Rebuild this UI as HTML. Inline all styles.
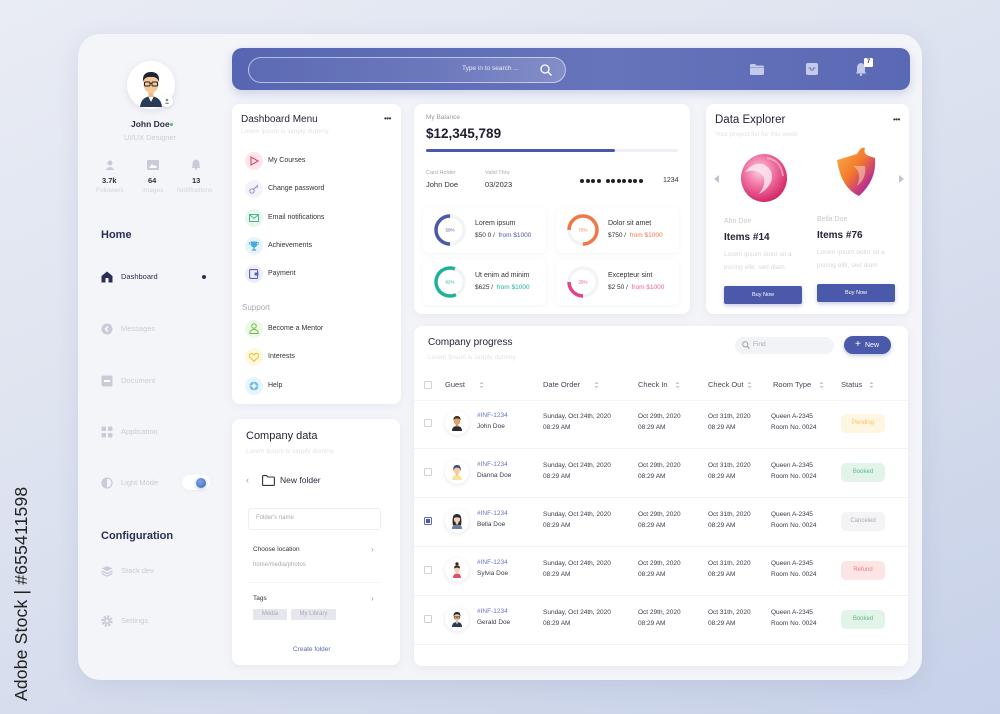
<!DOCTYPE html>
<html><head><meta charset="utf-8">
<style>
*{margin:0;padding:0;box-sizing:border-box}
body{width:1000px;height:714px;overflow:hidden;font-family:"Liberation Sans",sans-serif;background:linear-gradient(155deg,#e9ecf4 0%,#dce2ef 45%,#c7d1e8 100%);position:relative;color:#2a2d40}
.a{position:absolute;white-space:nowrap;line-height:1}
.card{position:absolute;background:#fff;border-radius:8px;box-shadow:0 2px 10px rgba(120,130,175,.10)}
.g{color:#c9ccd7}
.sub{color:#e0e2e9;font-size:6.5px}
.ic{position:absolute;border-radius:50%}
.th{font-size:7.5px;color:#454858}
.td{font-size:6.5px;color:#3a3c48}
.id{font-size:6.5px;color:#6a74c2}
.pill{position:absolute;width:44px;height:19px;border-radius:5px;font-size:6px;text-align:center;line-height:19px}
.cb{position:absolute;width:8px;height:8px;border:1px solid #cfd1da;border-radius:1.5px;background:#fff}
.av{position:absolute;width:24px;height:24px;border-radius:50%;background:#fff;box-shadow:0 1px 4px rgba(120,130,170,.2)}
.hr{position:absolute;height:1px;background:#f1f2f6}
.mini{position:absolute;background:#fff;border-radius:6px;box-shadow:0 1px 6px rgba(120,130,170,.09)}
.btn{position:absolute;background:#4a59a9;color:#fff;font-size:5.5px;text-align:center;border-radius:2px;box-shadow:0 2px 4px rgba(74,89,169,.3)}
.dot{display:inline-block;width:4px;height:4px;border-radius:50%;background:#222;margin-right:1.5px}
</style></head><body>

<!-- vertical watermark -->
<div class="a" style="left:13px;top:701px;transform:rotate(-90deg);transform-origin:left top;font-size:17.5px;color:#222;letter-spacing:0.2px">Adobe Stock | #655411598</div>

<!-- main panel -->
<div class="a" style="left:78px;top:34px;width:844px;height:646px;border-radius:22px;background:#f4f5f9;box-shadow:0 6px 24px rgba(100,115,160,.14)"></div>

<!-- ============ SIDEBAR ============ -->
<div class="a" style="left:127px;top:61px;width:48px;height:48px;border-radius:50%;background:#fff;box-shadow:0 2px 8px rgba(120,130,170,.18)"></div>
<svg class="a" style="left:127px;top:61px" width="48" height="48" viewBox="0 0 48 48">
  <path d="M13 46 Q14 36 24 35 Q34 36 35 46 Z" fill="#2b3a55"/>
  <path d="M21 35 L24 41 L27 35 Z" fill="#fff"/>
  <rect x="21.5" y="30" width="5" height="6" fill="#f0b98a"/>
  <ellipse cx="24" cy="23" rx="7.5" ry="9" fill="#f5c89b"/>
  <path d="M16 21 Q15 11 24 11 Q33 11 32 21 Q30 15 24 16 Q18 15 16 21Z" fill="#1f2433"/>
  <rect x="17.5" y="21" width="5.5" height="4" rx="1" fill="none" stroke="#222" stroke-width="1"/>
  <rect x="25" y="21" width="5.5" height="4" rx="1" fill="none" stroke="#222" stroke-width="1"/>
  <line x1="23" y1="22.5" x2="25" y2="22.5" stroke="#222" stroke-width="0.8"/>
</svg>
<div class="a" style="left:161px;top:95px;width:12px;height:12px;border-radius:50%;background:#fff;box-shadow:0 1px 3px rgba(0,0,0,.12)"></div>
<svg class="a" style="left:164px;top:98px" width="6" height="6" viewBox="0 0 6 6"><circle cx="3" cy="2" r="1.3" fill="#888"/><path d="M0.8 6 Q3 3 5.2 6Z" fill="#888"/></svg>

<div class="a" style="left:131px;top:120px;font-size:8.5px;font-weight:bold;color:#2a2d40">John Doe</div>
<div class="a" style="left:170px;top:123px;width:3px;height:3px;border-radius:50%;background:#4cc36b"></div>
<div class="a g" style="left:124px;top:134px;font-size:7.5px;color:#cbced8">UI/UX Designer</div>

<svg class="a" style="left:105px;top:160px" width="10" height="10" viewBox="0 0 10 10"><circle cx="5" cy="3" r="2.5" fill="#c9ccd7"/><path d="M0.5 10 Q5 4 9.5 10Z" fill="#c9ccd7"/></svg>
<svg class="a" style="left:147px;top:160px" width="12" height="10" viewBox="0 0 12 10"><rect width="12" height="10" rx="1" fill="#c9ccd7"/><path d="M2 8 L5 4 L7 6 L8.5 5 L10 8Z" fill="#fff"/></svg>
<svg class="a" style="left:191px;top:159px" width="10" height="11" viewBox="0 0 10 11"><path d="M5 0.5 Q8.5 1 8.5 5 L8.5 8 L9.5 9 L0.5 9 L1.5 8 L1.5 5 Q1.5 1 5 0.5Z" fill="#c9ccd7"/><circle cx="5" cy="10" r="1" fill="#c9ccd7"/></svg>
<div class="a" style="left:102px;top:177px;font-size:7.5px;font-weight:bold;color:#333">3.7k</div>
<div class="a" style="left:148px;top:177px;font-size:7.5px;font-weight:bold;color:#333">64</div>
<div class="a" style="left:192px;top:177px;font-size:7.5px;font-weight:bold;color:#333">13</div>
<div class="a" style="left:96px;top:188px;font-size:6.5px;color:#d3d5de">Followers</div>
<div class="a" style="left:142px;top:188px;font-size:6.5px;color:#d3d5de">Images</div>
<div class="a" style="left:177px;top:188px;font-size:6.5px;color:#d3d5de">Notifications</div>

<div class="a" style="left:101px;top:230px;font-size:11px;font-weight:bold;color:#2a2f55">Home</div>

<svg class="a" style="left:101px;top:271px" width="12" height="12" viewBox="0 0 12 12"><path d="M6 0.5 L11.5 5 L11.5 11.5 L0.5 11.5 L0.5 5Z" fill="#2a2f55"/><rect x="4.5" y="7" width="3" height="4.5" fill="#fff"/></svg>
<div class="a" style="left:121px;top:273px;font-size:7.5px;color:#2a2f55">Dashboard</div>
<div class="a" style="left:202px;top:275px;width:4px;height:4px;border-radius:50%;background:#2a2f55"></div>

<svg class="a" style="left:101px;top:323px" width="12" height="12" viewBox="0 0 12 12"><circle cx="6" cy="6" r="5.5" fill="#c9ccd7"/><path d="M7 3.5 L4.5 6 L7 8.5" stroke="#fff" stroke-width="1.4" fill="none"/></svg>
<div class="a g" style="left:121px;top:325px;font-size:7.5px">Messages</div>
<svg class="a" style="left:101px;top:375px" width="12" height="12" viewBox="0 0 12 12"><rect x="0.5" y="0.5" width="11" height="11" rx="2" fill="#c9ccd7"/><rect x="3" y="5" width="6" height="2" fill="#fff"/></svg>
<div class="a g" style="left:121px;top:377px;font-size:7.5px">Document</div>
<svg class="a" style="left:101px;top:426px" width="12" height="12" viewBox="0 0 12 12"><rect x="0.5" y="0.5" width="4.5" height="4.5" rx="1" fill="#c9ccd7"/><rect x="7" y="0.5" width="4.5" height="4.5" rx="1" fill="#c9ccd7"/><rect x="0.5" y="7" width="4.5" height="4.5" rx="1" fill="#c9ccd7"/><rect x="7" y="7" width="4.5" height="4.5" rx="1" fill="#c9ccd7"/></svg>
<div class="a g" style="left:121px;top:428px;font-size:7.5px">Application</div>
<svg class="a" style="left:101px;top:477px" width="12" height="12" viewBox="0 0 12 12"><circle cx="6" cy="6" r="5" fill="none" stroke="#c9ccd7" stroke-width="1.2"/><path d="M6 1 A5 5 0 0 0 6 11Z" fill="#c9ccd7"/></svg>
<div class="a g" style="left:121px;top:479px;font-size:7.5px">Light Mode</div>
<div class="a" style="left:182px;top:475px;width:28px;height:15px;border-radius:8px;background:#fff;box-shadow:0 1px 3px rgba(0,0,0,.04)"></div>
<div class="a" style="left:196px;top:478px;width:10px;height:10px;border-radius:50%;background:radial-gradient(circle at 40% 35%,#7aa4e6,#3a64b8);box-shadow:0 1px 3px rgba(58,100,184,.4)"></div>

<div class="a" style="left:101px;top:531px;font-size:11px;font-weight:bold;color:#2a2f55">Configuration</div>
<svg class="a" style="left:101px;top:565px" width="12" height="12" viewBox="0 0 12 12"><path d="M6 1 L11.5 3.5 L6 6 L0.5 3.5Z" fill="#c9ccd7"/><path d="M0.5 6 L6 8.5 L11.5 6" stroke="#c9ccd7" stroke-width="1.3" fill="none"/><path d="M0.5 8.5 L6 11 L11.5 8.5" stroke="#c9ccd7" stroke-width="1.3" fill="none"/></svg>
<div class="a g" style="left:121px;top:567px;font-size:7.5px">Stack dev</div>
<svg class="a" style="left:101px;top:615px" width="12" height="12" viewBox="0 0 12 12"><circle cx="6" cy="6" r="4.2" fill="none" stroke="#c9ccd7" stroke-width="3" stroke-dasharray="2 1.3"/><circle cx="6" cy="6" r="3.2" fill="#c9ccd7"/><circle cx="6" cy="6" r="1.5" fill="#f4f5f9"/></svg>
<div class="a g" style="left:121px;top:617px;font-size:7.5px">Settings</div>

<!-- ============ HEADER ============ -->
<div class="a" style="left:232px;top:48px;width:678px;height:42px;border-radius:10px;background:linear-gradient(90deg,#5766b2,#6674bb 55%,#5a69b4);box-shadow:0 4px 10px rgba(87,102,178,.25)"></div>
<div class="a" style="left:248px;top:57px;width:318px;height:26px;border-radius:13px;border:1px solid rgba(255,255,255,.55);background:linear-gradient(90deg,rgba(255,255,255,.03),rgba(255,255,255,.08) 60%,rgba(255,255,255,.2))"></div>
<div class="a" style="left:462px;top:66px;font-size:6.5px;color:rgba(255,255,255,.85)">Type in to search ...</div>
<svg class="a" style="left:540px;top:64px" width="12" height="12" viewBox="0 0 12 12"><circle cx="5" cy="5" r="4" fill="none" stroke="#fff" stroke-width="1.3"/><line x1="8" y1="8" x2="11.5" y2="11.5" stroke="#fff" stroke-width="1.3"/></svg>
<svg class="a" style="left:750px;top:64px" width="14" height="11" viewBox="0 0 14 11"><path d="M0 1.5 Q0 0 1.5 0 L5 0 L6.5 1.5 L12.5 1.5 Q14 1.5 14 3 L14 9.5 Q14 11 12.5 11 L1.5 11 Q0 11 0 9.5Z" fill="#c3caea"/><rect x="0" y="3" width="14" height="1" fill="#9aa4d8"/></svg>
<svg class="a" style="left:806px;top:63px" width="12" height="12" viewBox="0 0 12 12"><rect width="12" height="12" rx="2" fill="#c3caea"/><path d="M2.5 5 L4.5 5 L5 7 L7 7 L7.5 5 L9.5 5" stroke="#6674bb" stroke-width="1" fill="none"/></svg>
<svg class="a" style="left:855px;top:62px" width="12" height="14" viewBox="0 0 12 14"><path d="M6 1 Q10 1.5 10 6 L10 10 L11.5 11.5 L0.5 11.5 L2 10 L2 6 Q2 1.5 6 1Z" fill="#c3caea"/><circle cx="6" cy="12.8" r="1.2" fill="#c3caea"/></svg>
<div class="a" style="left:864px;top:58px;width:9px;height:9px;background:#fff;border-radius:1.5px;font-size:6px;font-weight:bold;color:#333;text-align:center;line-height:9px">7</div>

<!-- ============ DASHBOARD MENU ============ -->
<div class="card" style="left:232px;top:104px;width:169px;height:300px"></div>
<div class="a" style="left:241px;top:115px;font-size:10px;color:#23253a">Dashboard Menu</div>
<div class="a" style="left:384px;top:115px;font-size:8px;color:#333;letter-spacing:-0.5px">•••</div>
<div class="a sub" style="left:241px;top:129px">Lorem Ipsum is simply dummy</div>

<div class="ic" style="left:245px;top:152px;width:18px;height:18px;background:#fde7ed"></div>
<svg class="a" style="left:250px;top:156px" width="9" height="10" viewBox="0 0 9 10"><path d="M1 1 L8 5 L1 9Z" fill="none" stroke="#e44c6d" stroke-width="1.2"/></svg>
<div class="a" style="left:268px;top:157px;font-size:7px;color:#333">My Courses</div>

<div class="ic" style="left:245px;top:180px;width:18px;height:18px;background:#f3f3f9"></div>
<svg class="a" style="left:249px;top:184px" width="10" height="10" viewBox="0 0 10 10"><circle cx="3" cy="7" r="2.2" fill="none" stroke="#8b90c4" stroke-width="1"/><path d="M4.6 5.4 L9 1 M7.5 2.5 L8.8 3.8" stroke="#8b90c4" stroke-width="1"/></svg>
<div class="a" style="left:268px;top:185px;font-size:7px;color:#333">Change password</div>

<div class="ic" style="left:245px;top:209px;width:18px;height:18px;background:#e7f6ee"></div>
<svg class="a" style="left:249px;top:214px" width="10" height="8" viewBox="0 0 10 8"><rect x="0.5" y="0.5" width="9" height="7" fill="none" stroke="#4cb58a" stroke-width="1"/><path d="M0.5 0.5 L5 4.5 L9.5 0.5" fill="none" stroke="#4cb58a" stroke-width="1"/></svg>
<div class="a" style="left:268px;top:214px;font-size:7px;color:#333">Email notifications</div>

<div class="ic" style="left:245px;top:237px;width:18px;height:18px;background:#e8f5fd"></div>
<svg class="a" style="left:249px;top:241px" width="10" height="10" viewBox="0 0 10 10"><path d="M2 0.5 L8 0.5 L8 3.5 Q8 6 5 6.5 Q2 6 2 3.5Z" fill="#49a9e2"/><path d="M2 1.5 L0.5 1.5 Q0.5 4 2.2 4 M8 1.5 L9.5 1.5 Q9.5 4 7.8 4" stroke="#49a9e2" stroke-width="0.8" fill="none"/><rect x="4.3" y="6.5" width="1.4" height="2" fill="#49a9e2"/><rect x="2.8" y="8.5" width="4.4" height="1.2" fill="#49a9e2"/></svg>
<div class="a" style="left:268px;top:242px;font-size:7px;color:#333">Achievements</div>

<div class="ic" style="left:245px;top:265px;width:18px;height:18px;background:#ededf9"></div>
<svg class="a" style="left:249px;top:269px" width="10" height="10" viewBox="0 0 10 10"><rect x="0.6" y="0.6" width="8" height="8.8" rx="1" fill="none" stroke="#5d61b6" stroke-width="1.1"/><rect x="5.5" y="3.5" width="4" height="3" rx="0.8" fill="#5d61b6"/></svg>
<div class="a" style="left:268px;top:270px;font-size:7px;color:#333">Payment</div>

<div class="a" style="left:242px;top:304px;font-size:8px;color:#a8aab5">Support</div>

<div class="ic" style="left:245px;top:320px;width:18px;height:18px;background:#eef8e9"></div>
<svg class="a" style="left:249px;top:323px" width="10" height="11" viewBox="0 0 10 11"><circle cx="5" cy="3" r="2.3" fill="none" stroke="#6cbf4a" stroke-width="1"/><path d="M0.8 10.5 Q0.8 6.5 5 6.5 Q9.2 6.5 9.2 10.5Z" fill="none" stroke="#6cbf4a" stroke-width="1"/></svg>
<div class="a" style="left:268px;top:325px;font-size:7px;color:#333">Become a Mentor</div>

<div class="ic" style="left:245px;top:348px;width:18px;height:18px;background:#fef8e1"></div>
<svg class="a" style="left:249px;top:353px" width="10" height="9" viewBox="0 0 10 9"><path d="M5 8.3 L1 4.3 Q-0.5 2 1.5 0.8 Q3.5 -0.2 5 2 Q6.5 -0.2 8.5 0.8 Q10.5 2 9 4.3Z" fill="none" stroke="#f0c324" stroke-width="1.1"/></svg>
<div class="a" style="left:268px;top:353px;font-size:7px;color:#333">Interests</div>

<div class="ic" style="left:245px;top:377px;width:18px;height:18px;background:#e8f5fd"></div>
<svg class="a" style="left:249px;top:381px" width="10" height="10" viewBox="0 0 10 10"><circle cx="5" cy="5" r="4.5" fill="#68b9ec"/><circle cx="5" cy="5" r="2" fill="#e8f5fd"/><path d="M5 0.5 L5 3 M5 7 L5 9.5 M0.5 5 L3 5 M7 5 L9.5 5" stroke="#e8f5fd" stroke-width="0.8"/></svg>
<div class="a" style="left:268px;top:382px;font-size:7px;color:#333">Help</div>

<!-- ============ COMPANY DATA ============ -->
<div class="card" style="left:232px;top:419px;width:168px;height:246px"></div>
<div class="a" style="left:246px;top:431px;font-size:11px;color:#23253a">Company data</div>
<div class="a sub" style="left:246px;top:449px">Lorem Ipsum is simply dummy</div>
<div class="a" style="left:246px;top:476px;font-size:9px;color:#999">‹</div>
<svg class="a" style="left:262px;top:475px" width="13" height="11" viewBox="0 0 13 11"><path d="M0.6 1.5 Q0.6 0.6 1.5 0.6 L4.5 0.6 L5.8 2 L11.5 2 Q12.4 2 12.4 3 L12.4 9.5 Q12.4 10.4 11.5 10.4 L1.5 10.4 Q0.6 10.4 0.6 9.5Z" fill="none" stroke="#333" stroke-width="1.1"/></svg>
<div class="a" style="left:280px;top:476px;font-size:8.5px;color:#2a2d40">New folder</div>
<div class="a" style="left:248px;top:508px;width:133px;height:22px;border:1px solid #eceef3;border-radius:3px"></div>
<div class="a" style="left:256px;top:515px;font-size:6px;color:#a9abb5">Folder's name</div>
<div class="a" style="left:253px;top:547px;font-size:6.5px;color:#333">Choose location</div>
<div class="a" style="left:371px;top:546px;font-size:8px;color:#999">›</div>
<div class="a" style="left:253px;top:562px;font-size:6px;color:#aaa">home/media/photos</div>
<div class="hr" style="left:248px;top:582px;width:133px;background:#f4f5f8"></div>
<div class="a" style="left:253px;top:596px;font-size:6.5px;color:#333">Tags</div>
<div class="a" style="left:371px;top:595px;font-size:8px;color:#999">›</div>
<div class="a" style="left:253px;top:609px;width:34px;height:11px;background:#e6e7ec;border-radius:1.5px;font-size:6px;color:#a6a8b2;text-align:center;line-height:11px">Media</div>
<div class="a" style="left:291px;top:609px;width:45px;height:11px;background:#e6e7ec;border-radius:1.5px;font-size:6px;color:#a6a8b2;text-align:center;line-height:11px">My Library</div>
<div class="a" style="left:293px;top:647px;font-size:6.5px;color:#5b66b0">Create folder</div>

<!-- ============ BALANCE ============ -->
<div class="card" style="left:414px;top:104px;width:276px;height:210px"></div>
<div class="a" style="left:426px;top:115px;font-size:6.5px;color:#999">My Balance</div>
<div class="a" style="left:426px;top:127px;font-size:13.5px;font-weight:bold;color:#1e1f2e">$12,345,789</div>
<div class="a" style="left:426px;top:149px;width:252px;height:3px;border-radius:2px;background:#eef0f5"></div>
<div class="a" style="left:426px;top:149px;width:189px;height:3px;border-radius:2px;background:#4a59a9"></div>
<div class="a" style="left:426px;top:171px;font-size:5.5px;color:#aaa">Card Holder</div>
<div class="a" style="left:426px;top:181px;font-size:7.5px;color:#333">John Doe</div>
<div class="a" style="left:485px;top:171px;font-size:5.5px;color:#aaa">Valid Thru</div>
<div class="a" style="left:485px;top:181px;font-size:7.5px;color:#333">03/2023</div>
<div class="a" style="left:580px;top:179px;line-height:4px;font-size:0"><span class="dot"></span><span class="dot"></span><span class="dot"></span><span class="dot" style="margin-right:5px"></span><span class="dot"></span><span class="dot"></span><span class="dot"></span><span class="dot"></span><span class="dot"></span><span class="dot"></span><span class="dot"></span></div>
<div class="a" style="left:663px;top:177px;font-size:7px;color:#333">1234</div>

<div class="mini" style="left:423px;top:208px;width:123px;height:45px"></div>
<div class="mini" style="left:556px;top:208px;width:123px;height:45px"></div>
<div class="mini" style="left:423px;top:260px;width:123px;height:45px"></div>
<div class="mini" style="left:556px;top:260px;width:123px;height:45px"></div>

<svg class="a" style="left:434px;top:214px" width="32" height="32" viewBox="0 0 32 32"><circle cx="16" cy="16" r="14" fill="none" stroke="#f3f4f8" stroke-width="3.5"/><circle cx="16" cy="16" r="14" fill="none" stroke="#4a59a9" stroke-width="3.5" stroke-dasharray="44 100" transform="rotate(90 16 16)"/><text x="16" y="17.6" font-size="4.5" fill="#4a59a9" text-anchor="middle" font-family="Liberation Sans">50%</text></svg>
<svg class="a" style="left:567px;top:214px" width="32" height="32" viewBox="0 0 32 32"><circle cx="16" cy="16" r="14" fill="none" stroke="#f3f4f8" stroke-width="3.5"/><circle cx="16" cy="16" r="14" fill="none" stroke="#f07848" stroke-width="3.5" stroke-dasharray="66 100" transform="rotate(180 16 16)"/><text x="16" y="17.6" font-size="4.5" fill="#f07848" text-anchor="middle" font-family="Liberation Sans">75%</text></svg>
<svg class="a" style="left:434px;top:266px" width="32" height="32" viewBox="0 0 32 32"><circle cx="16" cy="16" r="14" fill="none" stroke="#f3f4f8" stroke-width="3.5"/><circle cx="16" cy="16" r="14" fill="none" stroke="#1db399" stroke-width="3.5" stroke-dasharray="55 100" transform="rotate(65 16 16)"/><text x="16" y="17.6" font-size="4.5" fill="#1db399" text-anchor="middle" font-family="Liberation Sans">62%</text></svg>
<svg class="a" style="left:567px;top:266px" width="32" height="32" viewBox="0 0 32 32"><circle cx="16" cy="16" r="14" fill="none" stroke="#f3f4f8" stroke-width="3.5"/><circle cx="16" cy="16" r="14" fill="none" stroke="#e2448a" stroke-width="3.5" stroke-dasharray="22 100" transform="rotate(90 16 16)"/><text x="16" y="17.6" font-size="4.5" fill="#e2448a" text-anchor="middle" font-family="Liberation Sans">25%</text></svg>

<div class="a" style="left:475px;top:220px;font-size:7px;color:#333">Lorem ipsum</div>
<div class="a" style="left:475px;top:233px;font-size:6.5px;color:#333">$50 0 /&nbsp;&nbsp;<span style="color:#4a59a9">from $1000</span></div>
<div class="a" style="left:608px;top:220px;font-size:7px;color:#333">Dolor sit amet</div>
<div class="a" style="left:608px;top:233px;font-size:6.5px;color:#333">$750 /&nbsp;&nbsp;<span style="color:#f07848">from $1000</span></div>
<div class="a" style="left:475px;top:272px;font-size:7px;color:#333">Ut enim ad minim</div>
<div class="a" style="left:475px;top:285px;font-size:6.5px;color:#333">$625 /&nbsp;&nbsp;<span style="color:#1db399">from $1000</span></div>
<div class="a" style="left:608px;top:272px;font-size:7px;color:#333">Excepteur sint</div>
<div class="a" style="left:608px;top:285px;font-size:6.5px;color:#333">$2 50 /&nbsp;&nbsp;<span style="color:#f0628a">from $1000</span></div>

<!-- ============ DATA EXPLORER ============ -->
<div class="card" style="left:706px;top:104px;width:203px;height:210px"></div>
<div class="a" style="left:715px;top:115px;font-size:11.5px;color:#23253a">Data Explorer</div>
<div class="a" style="left:893px;top:116px;font-size:8px;color:#333;letter-spacing:-0.5px">•••</div>
<div class="a sub" style="left:715px;top:132px">Your project list for this week</div>
<svg class="a" style="left:714px;top:175px" width="6" height="8" viewBox="0 0 6 8"><path d="M5 0 L0 4 L5 8Z" fill="#c3c4cc"/></svg>
<svg class="a" style="left:898px;top:175px" width="6" height="8" viewBox="0 0 6 8"><path d="M1 0 L6 4 L1 8Z" fill="#c3c4cc"/></svg>
<svg class="a" style="left:737px;top:150px" width="52" height="54" viewBox="0 0 52 54">
  <defs><radialGradient id="pk" cx="40%" cy="35%" r="65%"><stop offset="0" stop-color="#fbd0e0"/><stop offset="0.55" stop-color="#ee6a9c"/><stop offset="1" stop-color="#d42a6a"/></radialGradient></defs>
  <ellipse cx="27" cy="28" rx="23" ry="24" fill="url(#pk)"/>
  <path d="M8 22 Q20 18 26 26 Q30 34 22 44 Q30 40 34 32 Q38 20 26 14 Q16 12 8 22Z" fill="#fde4ee" opacity="0.85"/>
  <path d="M30 8 Q44 10 46 26" stroke="#fff" stroke-width="2" fill="none" opacity="0.4"/>
</svg>
<svg class="a" style="left:833px;top:146px" width="46" height="56" viewBox="0 0 46 56">
  <defs><linearGradient id="sh" x1="0" y1="0" x2="1" y2="1"><stop offset="0" stop-color="#fbb24a"/><stop offset="0.45" stop-color="#f27a2c"/><stop offset="0.75" stop-color="#c0348a"/><stop offset="1" stop-color="#7b2a9a"/></linearGradient></defs>
  <path d="M4 14 L24 8 Q28 0 32 2 Q30 8 36 10 L42 12 Q44 34 26 50 Q8 42 4 14Z" fill="url(#sh)"/>
  <path d="M20 20 Q30 26 24 40 Q34 32 32 20" fill="#fbe0c8" opacity="0.5"/>
</svg>
<div class="a" style="left:724px;top:218px;font-size:7px;color:#c8cad2">Ahn Doe</div>
<div class="a" style="left:724px;top:233px;font-size:10px;font-weight:bold;color:#23253a">Items #14</div>
<div class="a" style="left:724px;top:252px;font-size:6.5px;color:#d6d8de">Lorem ipsum dolor sit a</div>
<div class="a" style="left:724px;top:265px;font-size:6.5px;color:#d6d8de">pscing elitr, sed diam</div>
<div class="btn" style="left:724px;top:286px;width:78px;height:18px;line-height:18px">Buy Now</div>
<div class="a" style="left:817px;top:216px;font-size:7px;color:#c8cad2">Bella Doe</div>
<div class="a" style="left:817px;top:231px;font-size:10px;font-weight:bold;color:#23253a">Items #76</div>
<div class="a" style="left:817px;top:250px;font-size:6.5px;color:#d6d8de">Lorem ipsum dolor sit a</div>
<div class="a" style="left:817px;top:263px;font-size:6.5px;color:#d6d8de">pscing elitr, sed diam</div>
<div class="btn" style="left:817px;top:284px;width:78px;height:18px;line-height:18px">Buy Now</div>

<!-- ============ COMPANY PROGRESS ============ -->
<div class="card" style="left:414px;top:326px;width:494px;height:340px"></div>
<div class="a" style="left:428px;top:338px;font-size:10px;color:#23253a">Company progress</div>
<div class="a sub" style="left:428px;top:355px">Lorem Ipsum is simply dummy</div>
<div class="a" style="left:735px;top:337px;width:99px;height:17px;border-radius:9px;background:#f2f3f7"></div>
<svg class="a" style="left:742px;top:341px" width="8" height="8" viewBox="0 0 8 8"><circle cx="3.3" cy="3.3" r="2.6" fill="none" stroke="#999" stroke-width="0.9"/><line x1="5.2" y1="5.2" x2="7.5" y2="7.5" stroke="#999" stroke-width="0.9"/></svg>
<div class="a" style="left:753px;top:342px;font-size:6.5px;color:#aaa">Find</div>
<div class="a" style="left:844px;top:336px;width:47px;height:18px;border-radius:9px;background:#4a59a9;box-shadow:0 2px 4px rgba(74,89,169,.3)"></div>
<div class="a" style="left:855px;top:340px;font-size:10px;color:#fff">+</div>
<div class="a" style="left:865px;top:342px;font-size:7px;color:#fff">New</div>

<!-- header row -->
<div class="cb" style="left:424px;top:381px"></div>
<div class="a th" style="left:445px;top:381px">Guest</div>
<div class="a th" style="left:543px;top:381px">Date Order</div>
<div class="a th" style="left:638px;top:381px">Check In</div>
<div class="a th" style="left:708px;top:381px">Check Out</div>
<div class="a th" style="left:773px;top:381px">Room Type</div>
<div class="a th" style="left:841px;top:381px">Status</div>
<svg class="a" style="left:479px;top:381px" width="5" height="8" viewBox="0 0 5 8"><path d="M0.5 3 L2.5 0.8 L4.5 3Z M0.5 5 L2.5 7.2 L4.5 5Z" fill="#c5c7d0"/></svg>
<svg class="a" style="left:594px;top:381px" width="5" height="8" viewBox="0 0 5 8"><path d="M0.5 3 L2.5 0.8 L4.5 3Z M0.5 5 L2.5 7.2 L4.5 5Z" fill="#c5c7d0"/></svg>
<svg class="a" style="left:675px;top:381px" width="5" height="8" viewBox="0 0 5 8"><path d="M0.5 3 L2.5 0.8 L4.5 3Z M0.5 5 L2.5 7.2 L4.5 5Z" fill="#c5c7d0"/></svg>
<svg class="a" style="left:747px;top:381px" width="5" height="8" viewBox="0 0 5 8"><path d="M0.5 3 L2.5 0.8 L4.5 3Z M0.5 5 L2.5 7.2 L4.5 5Z" fill="#c5c7d0"/></svg>
<svg class="a" style="left:819px;top:381px" width="5" height="8" viewBox="0 0 5 8"><path d="M0.5 3 L2.5 0.8 L4.5 3Z M0.5 5 L2.5 7.2 L4.5 5Z" fill="#c5c7d0"/></svg>
<svg class="a" style="left:869px;top:381px" width="5" height="8" viewBox="0 0 5 8"><path d="M0.5 3 L2.5 0.8 L4.5 3Z M0.5 5 L2.5 7.2 L4.5 5Z" fill="#c5c7d0"/></svg>
<div class="hr" style="left:414px;top:400px;width:494px;background:#f5f6f9"></div>

<!-- row 1 -->
<div class="cb" style="left:424px;top:419px"></div>
<div class="av" style="left:445px;top:411px"></div>
<svg class="a" style="left:445px;top:411px" width="24" height="24" viewBox="0 0 24 24"><path d="M7 20 Q7 15 12 15 Q17 15 17 20Z" fill="#2b2b33"/><rect x="10.8" y="13" width="2.4" height="2.5" fill="#c98b5a"/><ellipse cx="12" cy="10" rx="3.4" ry="3.9" fill="#d9a070"/><path d="M8.4 9 Q8.4 5 12 5 Q15.6 5 15.6 9 Q14 7 12 7.4 Q10 7 8.4 9Z" fill="#3a2a20"/></svg>
<div class="a id" style="left:477px;top:413px">#INF-1234</div>
<div class="a td" style="left:477px;top:424px">John Doe</div>
<div class="a td" style="left:543px;top:414px">Sunday, Oct 24th, 2020</div>
<div class="a td" style="left:543px;top:425px">08:29 AM</div>
<div class="a td" style="left:638px;top:414px">Oct 29th, 2020</div>
<div class="a td" style="left:638px;top:425px">08:29 AM</div>
<div class="a td" style="left:708px;top:414px">Oct 31th, 2020</div>
<div class="a td" style="left:708px;top:425px">08:29 AM</div>
<div class="a td" style="left:771px;top:414px">Queen A-2345</div>
<div class="a td" style="left:771px;top:425px">Room No. 0024</div>
<div class="pill" style="left:841px;top:414px;background:#fff6e2;color:#f4c067">Pending</div>
<div class="hr" style="left:414px;top:448px;width:494px"></div>

<!-- row 2 -->
<div class="cb" style="left:424px;top:468px"></div>
<div class="av" style="left:445px;top:460px"></div>
<svg class="a" style="left:445px;top:460px" width="24" height="24" viewBox="0 0 24 24"><path d="M7 20 Q7 15 12 15 Q17 15 17 20Z" fill="#f2e6a0"/><rect x="10.8" y="13" width="2.4" height="2.5" fill="#f0c090"/><ellipse cx="12" cy="10.3" rx="3.4" ry="3.9" fill="#f6cda0"/><path d="M8.2 11 Q7.8 5 12 5 Q16.2 5 15.8 11 Q15 7.5 12 7.5 Q9 7.5 8.2 11Z" fill="#2f4a8a"/></svg>
<div class="a id" style="left:477px;top:462px">#INF-1234</div>
<div class="a td" style="left:477px;top:473px">Dianna Doe</div>
<div class="a td" style="left:543px;top:463px">Sunday, Oct 24th, 2020</div>
<div class="a td" style="left:543px;top:474px">08:29 AM</div>
<div class="a td" style="left:638px;top:463px">Oct 29th, 2020</div>
<div class="a td" style="left:638px;top:474px">08:29 AM</div>
<div class="a td" style="left:708px;top:463px">Oct 31th, 2020</div>
<div class="a td" style="left:708px;top:474px">08:29 AM</div>
<div class="a td" style="left:771px;top:463px">Queen A-2345</div>
<div class="a td" style="left:771px;top:474px">Room No. 0024</div>
<div class="pill" style="left:841px;top:463px;background:#e2f4e9;color:#58bd86">Booked</div>
<div class="hr" style="left:414px;top:497px;width:494px"></div>

<!-- row 3 -->
<div class="cb" style="left:424px;top:517px;border-color:#5a66bb"></div>
<div class="a" style="left:426px;top:519px;width:4px;height:4px;background:#4a59a9"></div>
<div class="av" style="left:445px;top:509px"></div>
<svg class="a" style="left:445px;top:509px" width="24" height="24" viewBox="0 0 24 24"><path d="M7 20 Q7 15 12 15 Q17 15 17 20Z" fill="#6a7fa0"/><path d="M7.8 16 Q7 8 9 6 Q12 4 15 6 Q17 8 16.2 16Z" fill="#252a35"/><rect x="10.8" y="13" width="2.4" height="2.5" fill="#f0c8a0"/><ellipse cx="12" cy="10.3" rx="3.1" ry="3.7" fill="#f6d2b0"/><path d="M8.8 9 Q10 6 12 6.2 Q14 6 15.2 9 Q12 7.5 8.8 9Z" fill="#252a35"/></svg>
<div class="a id" style="left:477px;top:511px">#INF-1234</div>
<div class="a td" style="left:477px;top:522px">Bella Doe</div>
<div class="a td" style="left:543px;top:512px">Sunday, Oct 24th, 2020</div>
<div class="a td" style="left:543px;top:523px">08:29 AM</div>
<div class="a td" style="left:638px;top:512px">Oct 29th, 2020</div>
<div class="a td" style="left:638px;top:523px">08:29 AM</div>
<div class="a td" style="left:708px;top:512px">Oct 31th, 2020</div>
<div class="a td" style="left:708px;top:523px">08:29 AM</div>
<div class="a td" style="left:771px;top:512px">Queen A-2345</div>
<div class="a td" style="left:771px;top:523px">Room No. 0024</div>
<div class="pill" style="left:841px;top:512px;background:#f4f4f6;color:#a9abb3">Canceled</div>
<div class="hr" style="left:414px;top:546px;width:494px"></div>

<!-- row 4 -->
<div class="cb" style="left:424px;top:566px"></div>
<div class="av" style="left:445px;top:558px"></div>
<svg class="a" style="left:445px;top:558px" width="24" height="24" viewBox="0 0 24 24"><path d="M8 20 Q8 15.5 12 15.5 Q16 15.5 16 20Z" fill="#e0506a"/><rect x="10.8" y="13.5" width="2.4" height="2.5" fill="#f0c8a0"/><ellipse cx="12" cy="11" rx="3" ry="3.3" fill="#f6d2b0"/><circle cx="12" cy="5.8" r="1.6" fill="#3a2a25"/><path d="M9 10.5 Q9 7.3 12 7.3 Q15 7.3 15 10.5 Q12 8.8 9 10.5Z" fill="#3a2a25"/></svg>
<div class="a id" style="left:477px;top:560px">#INF-1234</div>
<div class="a td" style="left:477px;top:571px">Sylvia Doe</div>
<div class="a td" style="left:543px;top:561px">Sunday, Oct 24th, 2020</div>
<div class="a td" style="left:543px;top:572px">08:29 AM</div>
<div class="a td" style="left:638px;top:561px">Oct 29th, 2020</div>
<div class="a td" style="left:638px;top:572px">08:29 AM</div>
<div class="a td" style="left:708px;top:561px">Oct 31th, 2020</div>
<div class="a td" style="left:708px;top:572px">08:29 AM</div>
<div class="a td" style="left:771px;top:561px">Queen A-2345</div>
<div class="a td" style="left:771px;top:572px">Room No. 0024</div>
<div class="pill" style="left:841px;top:561px;background:#fde5e6;color:#ef7b7e">Refund</div>
<div class="hr" style="left:414px;top:595px;width:494px"></div>

<!-- row 5 -->
<div class="cb" style="left:424px;top:615px"></div>
<div class="av" style="left:445px;top:607px"></div>
<svg class="a" style="left:445px;top:607px" width="24" height="24" viewBox="0 0 24 24"><path d="M7 20 Q7 15 12 15 Q17 15 17 20Z" fill="#2b3a55"/><path d="M11 15 L12 17.5 L13 15Z" fill="#fff"/><rect x="10.8" y="13" width="2.4" height="2.5" fill="#f0b98a"/><ellipse cx="12" cy="10" rx="3.3" ry="3.8" fill="#f5c89b"/><path d="M8.6 9.5 Q8.2 5 12 5 Q15.8 5 15.4 9.5 Q14 7 12 7.3 Q10 7 8.6 9.5Z" fill="#1f2433"/><rect x="9.2" y="9.5" width="2.3" height="1.6" fill="none" stroke="#222" stroke-width="0.5"/><rect x="12.5" y="9.5" width="2.3" height="1.6" fill="none" stroke="#222" stroke-width="0.5"/></svg>
<div class="a id" style="left:477px;top:609px">#INF-1234</div>
<div class="a td" style="left:477px;top:620px">Gerald Doe</div>
<div class="a td" style="left:543px;top:610px">Sunday, Oct 24th, 2020</div>
<div class="a td" style="left:543px;top:621px">08:29 AM</div>
<div class="a td" style="left:638px;top:610px">Oct 29th, 2020</div>
<div class="a td" style="left:638px;top:621px">08:29 AM</div>
<div class="a td" style="left:708px;top:610px">Oct 31th, 2020</div>
<div class="a td" style="left:708px;top:621px">08:29 AM</div>
<div class="a td" style="left:771px;top:610px">Queen A-2345</div>
<div class="a td" style="left:771px;top:621px">Room No. 0024</div>
<div class="pill" style="left:841px;top:610px;background:#e2f4e9;color:#58bd86">Booked</div>
<div class="hr" style="left:414px;top:644px;width:494px"></div>

</body></html>
